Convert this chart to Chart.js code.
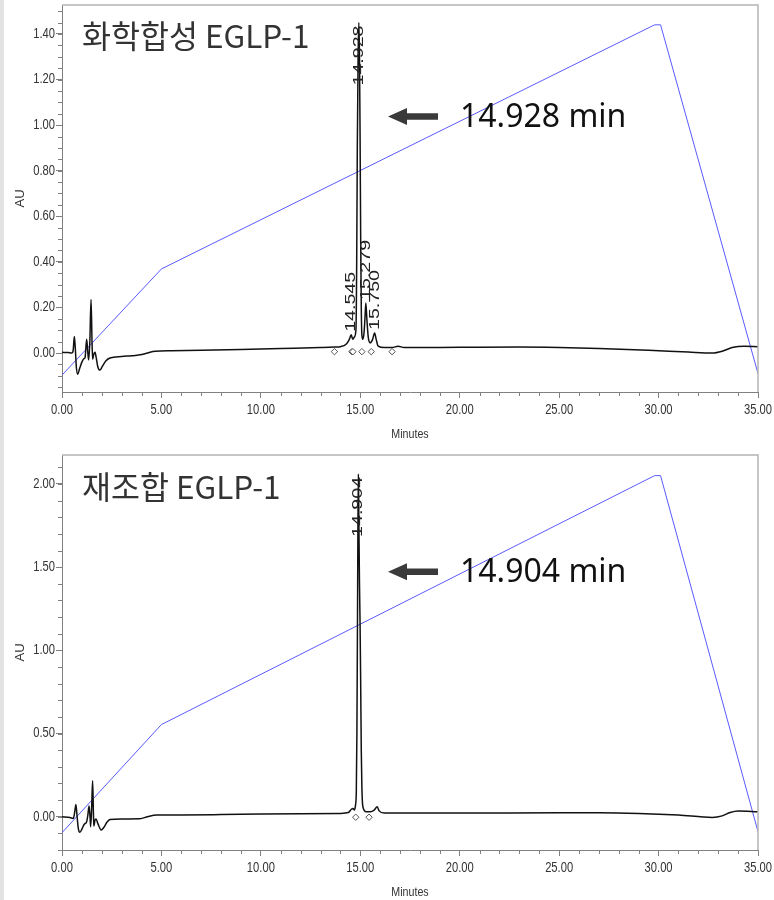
<!DOCTYPE html>
<html>
<head>
<meta charset="utf-8">
<script src="https://cdn.jsdelivr.net/npm/chart.js@4.4.1/dist/chart.umd.min.js"></script>
<style>
    body { margin: 0; background: #fff; width: 774px; height: 900px; position: relative; overflow: hidden; }
    .strip { position: absolute; left: 0; top: 0; width: 4px; height: 900px; background: #e2e2e2; }
    .panel { position: absolute; left: 0; width: 774px; height: 450px; }
    .panel canvas { display: block; }
    .titulo { position: absolute; left: 82px; font: 31.5px/1 "Noto Sans CJK KR", sans-serif; color: #333; white-space: nowrap; }
    .tempo { position: absolute; left: 460px; font: 32px/1 "Noto Sans", sans-serif; color: #111; white-space: nowrap; }
</style>
</head>
<body>
<div class="strip"></div>
<div class="panel" style="top:0"><canvas id="chartTop" width="774" height="450"></canvas></div>
<div class="panel" style="top:450px"><canvas id="chartBottom" width="774" height="450"></canvas></div>
<div class="titulo" style="top:19px">화학합성 EGLP-1</div>
<div class="tempo" style="top:99px">14.928 min</div>
<div class="titulo" style="top:470px">재조합 EGLP-1</div>
<div class="tempo" style="top:554px">14.904 min</div>

<script>
// eixos
const xTicks = [0, 5, 10, 15, 20, 25, 30, 35];
const yTicksTop = [0, 0.2, 0.4, 0.6, 0.8, 1.0, 1.2, 1.4];
const yTicksBottom = [0, 0.5, 1.0, 1.5, 2.0];

// cromatograma - sintese quimica
const timeTop = [0.00, 0.30, 0.50, 0.56, 0.62, 0.67, 0.72, 0.79, 0.88, 1.00, 1.10, 1.16, 1.24, 1.30, 1.34, 1.40, 1.46, 1.51, 1.54, 1.60,
    1.66, 1.72, 1.80, 1.91, 2.02, 2.20, 2.41, 3.00, 3.50, 3.92, 4.30, 4.68, 5.50, 7.00, 9.00, 11.00, 13.00, 13.70, 14.00, 14.30,
    14.45, 14.545, 14.62, 14.70, 14.78, 14.82, 14.85, 14.89, 14.928, 14.96, 14.99, 15.02, 15.05, 15.08, 15.13, 15.19, 15.24, 15.279, 15.33, 15.40,
    15.50, 15.62, 15.72, 15.80, 15.90, 16.20, 16.60, 16.90, 17.20, 20.00, 23.00, 25.00, 27.00, 29.50, 31.50, 32.70, 33.20, 33.70, 34.30, 35.00];
const auTop = [0.003, 0.002, 0.000, 0.010, 0.072, 0.020, -0.060, -0.093, -0.070, -0.040, -0.025, -0.020, 0.060, 0.000, -0.030, 0.050, 0.235, 0.050, -0.027, -0.005,
    0.003, -0.020, -0.060, -0.075, -0.060, -0.035, -0.022, -0.015, -0.012, -0.008, 0.000, 0.008, 0.010, 0.012, 0.016, 0.020, 0.024, 0.026, 0.028, 0.040,
    0.060, 0.080, 0.060, 0.070, 0.100, 0.400, 0.900, 1.300, 1.450, 1.300, 0.950, 0.500, 0.200, 0.080, 0.060, 0.090, 0.160, 0.220, 0.150, 0.070,
    0.045, 0.060, 0.088, 0.060, 0.030, 0.024, 0.024, 0.030, 0.024, 0.025, 0.026, 0.024, 0.020, 0.012, 0.004, 0.000, 0.008, 0.024, 0.030, 0.028];
const gradTimeTop = [0, 5, 29.8, 30.1, 35];
const gradTop = [-0.097, 0.369, 1.440, 1.440, -0.090];
const markTimeTop = [13.70, 14.58, 14.63, 15.08, 15.55, 16.60];
const peakTimeTop = [14.545, 14.928, 15.279, 15.750];
const peakAuTop = [0.080, 1.450, 0.220, 0.088];
const peakLabelTop = ["14.545", "14.928", "15.279", "15.750"];

// cromatograma - recombinante
const timeBottom = [0.00, 0.40, 0.57, 0.63, 0.70, 0.76, 0.82, 0.90, 1.00, 1.12, 1.24, 1.30, 1.36, 1.41, 1.44, 1.49, 1.54, 1.58, 1.60, 1.66,
    1.71, 1.80, 1.97, 2.10, 2.25, 2.41, 3.00, 3.92, 4.30, 4.76, 6.00, 8.00, 10.00, 12.00, 14.00, 14.40, 14.55, 14.63, 14.70, 14.76,
    14.80, 14.83, 14.86, 14.88, 14.904, 14.93, 14.96, 14.99, 15.02, 15.05, 15.08, 15.13, 15.30, 15.50, 15.70, 15.85, 15.95, 16.20, 20.00, 25.00,
    27.00, 29.00, 31.00, 32.70, 33.20, 33.60, 34.00, 35.00];
const auBottom = [0.000, -0.005, -0.010, 0.020, 0.074, 0.000, -0.070, -0.094, -0.075, -0.045, -0.030, 0.010, 0.064, 0.000, -0.060, 0.050, 0.216, 0.020, -0.056, -0.020,
    -0.014, -0.040, -0.080, -0.065, -0.035, -0.016, -0.013, -0.012, 0.000, 0.010, 0.011, 0.013, 0.016, 0.018, 0.020, 0.025, 0.045, 0.050, 0.040, 0.070,
    0.150, 0.500, 1.200, 1.700, 2.060, 1.750, 1.400, 1.150, 0.800, 0.400, 0.180, 0.060, 0.030, 0.030, 0.040, 0.060, 0.035, 0.022, 0.022, 0.024,
    0.024, 0.020, 0.010, -0.004, 0.005, 0.025, 0.034, 0.030];
const gradTimeBottom = [0, 5, 29.8, 30.1, 35];
const gradBottom = [-0.096, 0.554, 2.050, 2.050, -0.090];
const markTimeBottom = [14.77, 15.44];
const peakTimeBottom = [14.904];
const peakAuBottom = [2.060];
const peakLabelBottom = ["14.904"];

const FONTE = '"Liberation Sans", Arial, sans-serif';
const CINZA = "#808080";

function toPoints(xs, ys) {
    return xs.map((x, i) => ({ x: x, y: ys[i] }));
}

// texto estreito (estilo Arial Narrow)
function textoEstreito(ctx, txt, x, y, align, fator) {
    ctx.save();
    ctx.translate(x, y);
    ctx.scale(fator, 1);
    ctx.textAlign = align;
    ctx.fillText(txt, 0, 0);
    ctx.restore();
}

function desenharExtras(chart, cfg) {
    const ctx = chart.ctx;
    const area = chart.chartArea;
    const sx = chart.scales.x;
    const sy = chart.scales.y;

    ctx.save();

    // moldura superior e direita
    ctx.strokeStyle = "#b4b4b4";
    ctx.lineWidth = 1.5;
    ctx.beginPath();
    ctx.moveTo(area.left, area.top);
    ctx.lineTo(area.right, area.top);
    ctx.lineTo(area.right, area.bottom);
    ctx.stroke();

    // ticks menores
    ctx.strokeStyle = CINZA;
    ctx.lineWidth = 1;
    ctx.beginPath();
    for (let m = 0; m <= 35; m++) {
        if (m % 5 === 0) continue;
        const px = Math.round(sx.getPixelForValue(m)) + 0.5;
        ctx.moveTo(px, area.bottom);
        ctx.lineTo(px, area.bottom + 4);
    }
    for (let k = Math.ceil(cfg.yMin / cfg.minorStep); k * cfg.minorStep <= cfg.yMax + 1e-9; k++) {
        const v = k * cfg.minorStep;
        const py = Math.round(sy.getPixelForValue(v)) + 0.5;
        ctx.moveTo(area.left - 4, py);
        ctx.lineTo(area.left, py);
    }
    ctx.stroke();

    // rotulos dos ticks
    ctx.fillStyle = "#333";
    ctx.font = "14px " + FONTE;
    ctx.textBaseline = "middle";
    sx.ticks.forEach(t => {
        textoEstreito(ctx, t.value.toFixed(2), sx.getPixelForValue(t.value), area.bottom + 18, "center", 0.8);
    });
    sy.ticks.forEach(t => {
        textoEstreito(ctx, t.value.toFixed(2), area.left - 7, sy.getPixelForValue(t.value), "right", 0.8);
    });

    // titulos dos eixos
    ctx.font = "13px " + FONTE;
    textoEstreito(ctx, "Minutes", (area.left + area.right) / 2, area.bottom + 42, "center", 0.82);
    ctx.save();
    ctx.translate(20, (area.top + area.bottom) / 2);
    ctx.rotate(-Math.PI / 2);
    ctx.textAlign = "center";
    ctx.fillText("AU", 0, 0);
    ctx.restore();

    // rotulos dos picos
    ctx.fillStyle = "#222";
    ctx.font = "14px " + FONTE;
    cfg.peakTime.forEach((t, i) => {
        const px = sx.getPixelForValue(t);
        const py = sy.getPixelForValue(cfg.peakAu[i]);
        const len = ctx.measureText(cfg.peakLabel[i]).width * 1.4;
        const cabe = py - 3 - len > area.top + 2;
        ctx.save();
        ctx.translate(px, cabe ? py - 3 : py + 3);
        ctx.rotate(-Math.PI / 2);
        ctx.scale(1.4, 1);
        ctx.textAlign = cabe ? "left" : "right";
        ctx.fillText(cfg.peakLabel[i], 0, 0);
        ctx.restore();
    });

    // seta
    const ay = cfg.arrowY;
    ctx.fillStyle = "#3a3a3a";
    ctx.beginPath();
    ctx.moveTo(388, ay);
    ctx.lineTo(407, ay - 8.5);
    ctx.lineTo(407, ay - 3.3);
    ctx.lineTo(438, ay - 3.3);
    ctx.lineTo(438, ay + 3.3);
    ctx.lineTo(407, ay + 3.3);
    ctx.lineTo(407, ay + 8.5);
    ctx.closePath();
    ctx.fill();

    ctx.restore();
}

function criarCromatograma(id, cfg) {
    const canvas = document.getElementById(id);

    new Chart(canvas, {
        type: "line",
        data: {
            datasets: [
                {
                    data: toPoints(cfg.time, cfg.au),
                    borderColor: "#111",
                    borderWidth: 1.5,
                    pointRadius: 0,
                    cubicInterpolationMode: "monotone",
                    order: 1
                },
                {
                    data: toPoints(cfg.gradTime, cfg.grad),
                    borderColor: "rgb(90, 90, 255)",
                    borderWidth: 1,
                    pointRadius: 0,
                    order: 2
                },
                {
                    data: cfg.markTime.map(t => ({ x: t, y: cfg.markAu })),
                    showLine: false,
                    pointStyle: "rectRot",
                    pointRadius: 3.2,
                    pointBorderWidth: 1,
                    pointBorderColor: "#555",
                    pointBackgroundColor: "#fff",
                    order: 0
                }
            ]
        },
        options: {
            responsive: false,
            animation: false,
            events: [],
            layout: { padding: { top: cfg.top, right: 16, left: 0, bottom: 0 } },
            plugins: { legend: { display: false }, tooltip: { enabled: false } },
            scales: {
                x: {
                    type: "linear",
                    min: 0,
                    max: 35,
                    afterBuildTicks: s => { s.ticks = xTicks.map(v => ({ value: v })); },
                    afterFit: s => { s.height = cfg.xHeight; },
                    grid: { drawOnChartArea: false, tickLength: 6, color: CINZA },
                    border: { color: CINZA },
                    ticks: { display: false }
                },
                y: {
                    type: "linear",
                    min: cfg.yMin,
                    max: cfg.yMax,
                    afterBuildTicks: s => { s.ticks = cfg.yTicks.map(v => ({ value: v })); },
                    afterFit: s => { s.width = 62; },
                    grid: { drawOnChartArea: false, tickLength: 6, color: CINZA },
                    border: { color: CINZA },
                    ticks: { display: false }
                }
            }
        },
        plugins: [{ id: "extras", afterDraw: chart => desenharExtras(chart, cfg) }]
    });
}

criarCromatograma("chartTop", {
    time: timeTop, au: auTop, gradTime: gradTimeTop, grad: gradTop,
    markTime: markTimeTop, markAu: 0.006,
    peakTime: peakTimeTop, peakAu: peakAuTop, peakLabel: peakLabelTop,
    yTicks: yTicksTop, yMin: -0.171, yMax: 1.527, minorStep: 0.05,
    top: 5, xHeight: 58, arrowY: 116.5
});

criarCromatograma("chartBottom", {
    time: timeBottom, au: auBottom, gradTime: gradTimeBottom, grad: gradBottom,
    markTime: markTimeBottom, markAu: -0.003,
    peakTime: peakTimeBottom, peakAu: peakAuBottom, peakLabel: peakLabelBottom,
    yTicks: yTicksBottom, yMin: -0.2, yMax: 2.174, minorStep: 0.1,
    top: 4, xHeight: 50, arrowY: 121.7
});
</script>
</body>
</html>
